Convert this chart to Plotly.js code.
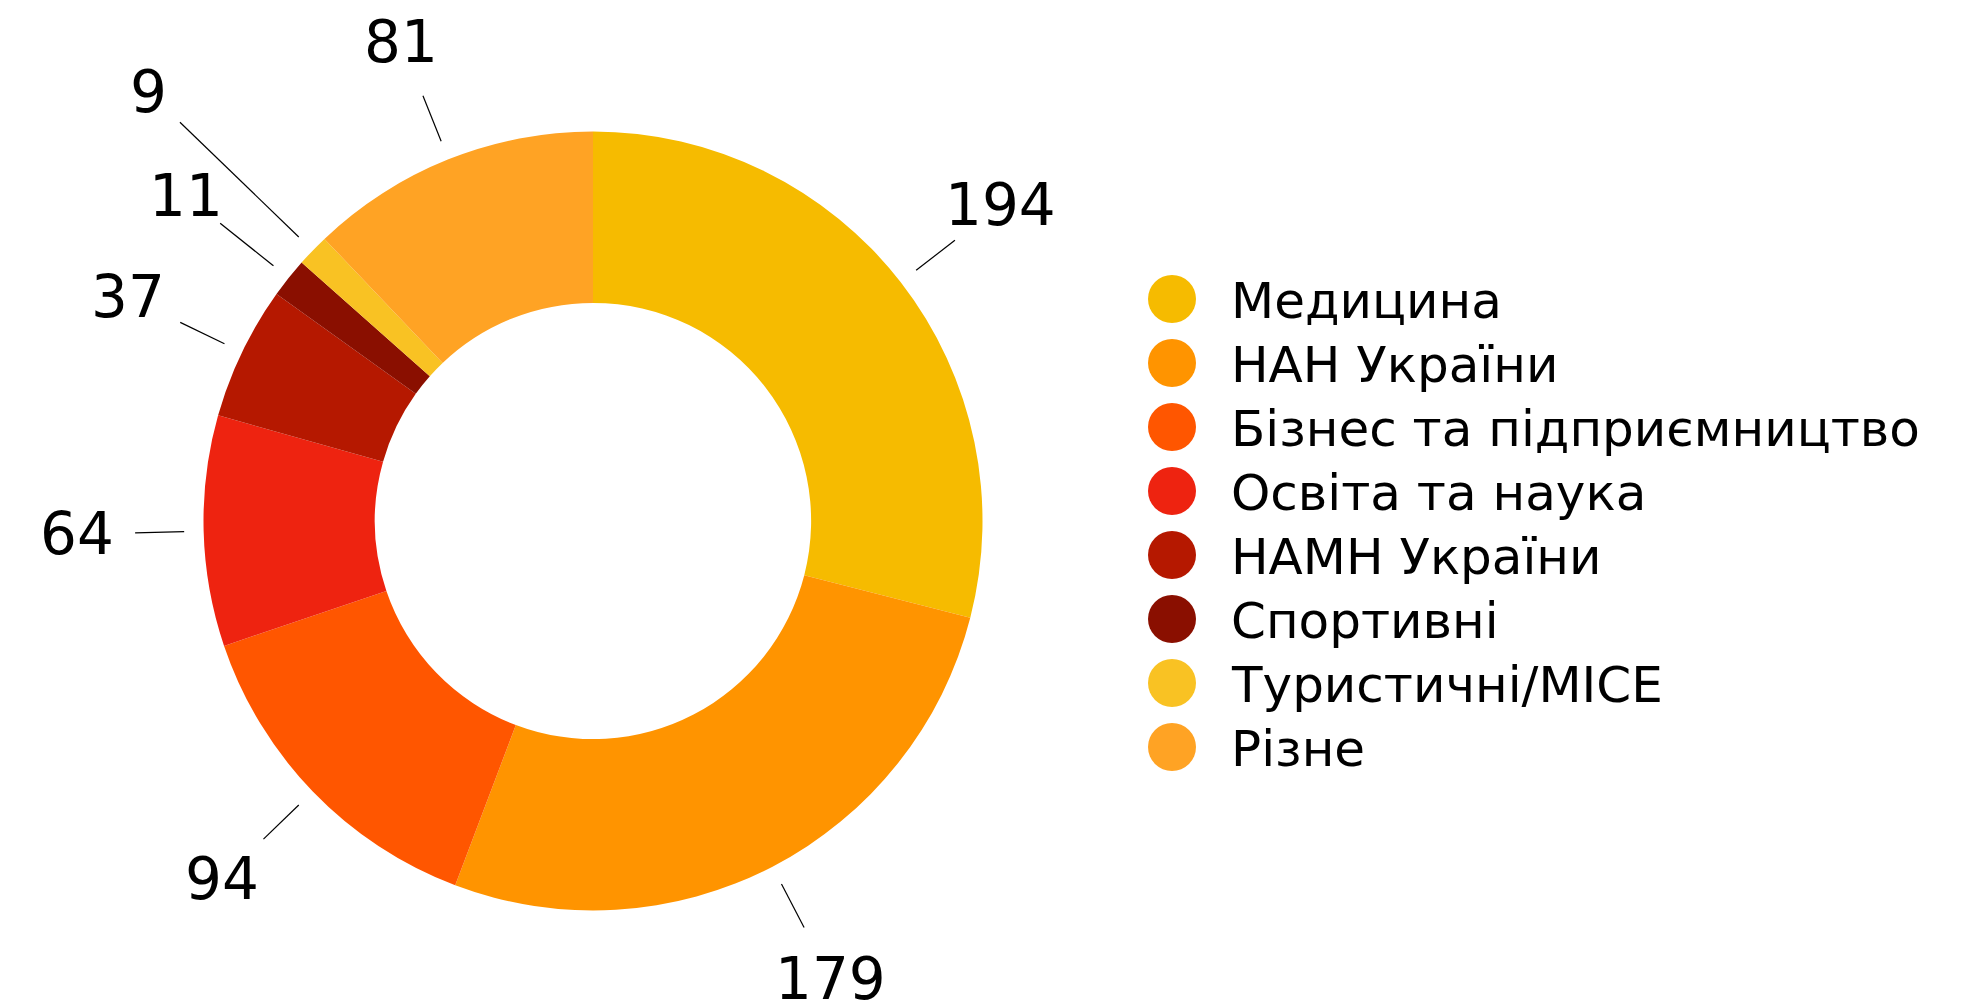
<!DOCTYPE html>
<html>
<head>
<meta charset="utf-8">
<script src="https://cdn.plot.ly/plotly-3.0.1.min.js"></script>
<style>
  html, body { margin: 0; padding: 0; background: #ffffff; }
  #chart { width: 1983px; height: 1007px; }
</style>
</head>
<body>
<div id="chart"></div>
<script>
// ---- data ----
const categories = [
  "Медицина",
  "НАН України",
  "Бізнес та підприємництво",
  "Освіта та наука",
  "НАМН України",
  "Спортивні",
  "Туристичні/MICE",
  "Різне"
];
const values = [194, 179, 94, 64, 37, 11, 9, 81];
const colors = ["#F6BB00", "#FF9400", "#FF5600", "#EE2310", "#B51800", "#8A0F00", "#F9C223", "#FFA324"];

// ---- layout config (pixels) ----
const W = 1983, H = 1007;
const FONT = "DejaVu Sans";
const pie = { cx: 593, cy: 521, r: 389.5, hole: 0.56 };
const leader = { inner: 1.05, outer: 1.176, label: 1.325 };
const leaderOverrides = { 5: { outer: 1.225, label: 1.338 }, 6: { outer: 1.474, label: 1.587 } };
const legendBox = { x: 1172, textX: 1229, top: 299, step: 64, marker: 48, fontSize: 50, textShift: -2 };
const labelFontSize = 58;

const total = values.reduce((a, b) => a + b, 0);
const px2x = p => p / W;
const px2y = p => 1 - p / H;

const shapes = [];
const annotations = [];
let cum = 0;
values.forEach((v, i) => {
  const mid = (cum + v / 2) / total * 2 * Math.PI;
  cum += v;
  const g = Object.assign({}, leader, leaderOverrides[i] || {});
  const pt = k => [pie.cx + pie.r * k * Math.sin(mid), pie.cy - pie.r * k * Math.cos(mid)];
  const a = pt(g.inner), b = pt(g.outer), c = pt(g.label);
  shapes.push({
    type: "line", xref: "paper", yref: "paper",
    x0: px2x(a[0]), y0: px2y(a[1]), x1: px2x(b[0]), y1: px2y(b[1]),
    line: { color: "#000000", width: 1.2 }
  });
  annotations.push({
    text: String(v), xref: "paper", yref: "paper",
    x: px2x(c[0]), y: px2y(c[1]), xanchor: "center", yanchor: "middle",
    showarrow: false, font: { family: FONT, size: labelFontSize, color: "#000000" }
  });
});

const idx = categories.map((_, i) => i);
const n = categories.length;

// legend texts (real text, placed on the legend axes)
categories.forEach((c, i) => {
  annotations.push({
    text: c, xref: "x", yref: "y", x: 1, y: i,
    xanchor: "left", yanchor: "middle", yshift: legendBox.textShift,
    showarrow: false, font: { family: FONT, size: legendBox.fontSize, color: "#000000" }
  });
});

const data = [
  {
    type: "pie",
    labels: categories,
    values: values,
    marker: { colors: colors, line: { width: 0 } },
    hole: pie.hole,
    sort: false,
    direction: "clockwise",
    rotation: 0,
    textinfo: "none",
    hoverinfo: "label+value",
    showlegend: false,
    domain: {
      x: [px2x(pie.cx - pie.r), px2x(pie.cx + pie.r)],
      y: [px2y(pie.cy + pie.r), px2y(pie.cy - pie.r)]
    }
  },
  {
    type: "scatter",
    x: idx.map(() => 0),
    y: idx,
    mode: "markers",
    marker: { size: legendBox.marker, color: colors, line: { width: 0 } },
    cliponaxis: false,
    hoverinfo: "skip",
    showlegend: false
  }
];

const layout = {
  width: W, height: H,
  margin: { l: 0, r: 0, t: 0, b: 0 },
  paper_bgcolor: "#ffffff",
  plot_bgcolor: "rgba(0,0,0,0)",
  font: { family: FONT, color: "#000000" },
  showlegend: false,
  xaxis: {
    domain: [px2x(legendBox.x), px2x(legendBox.textX)],
    range: [0, 1], visible: false, fixedrange: true
  },
  yaxis: {
    domain: [px2y(legendBox.top + (n - 1) * legendBox.step), px2y(legendBox.top)],
    range: [n - 1, 0], visible: false, fixedrange: true
  },
  shapes: shapes,
  annotations: annotations
};

Plotly.newPlot("chart", data, layout, { displayModeBar: false, staticPlot: true });
</script>
</body>
</html>
